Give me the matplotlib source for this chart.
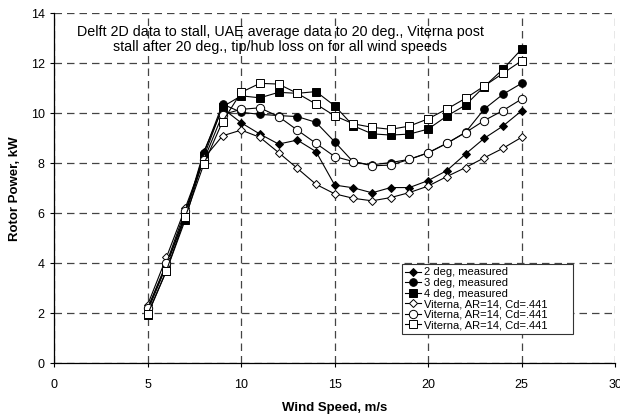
import matplotlib
matplotlib.use('Agg')
import matplotlib.pyplot as plt

plt.rcParams['font.family'] = ['Liberation Sans', 'DejaVu Sans']

# Wind speeds, m/s
wind = [5, 6, 7, 8, 9, 10, 11, 12, 13, 14, 15, 16, 17, 18, 19, 20, 21, 22, 23, 24, 25]

# Measured rotor power, kW
meas2 = [2.2, 3.95, 5.95, 8.47, 10.2, 9.62, 9.17, 8.77, 8.93, 8.47, 7.13, 7.02, 6.82,
         7.03, 7.03, 7.31, 7.71, 8.37, 9.0, 9.49, 10.1]
meas3 = [2.1, 3.9, 5.9, 8.4, 10.37, 10.04, 9.96, 9.91, 9.87, 9.64, 8.86, 8.05, 7.94,
         8.03, 8.16, 8.42, 8.8, 9.24, 10.17, 10.76, 11.2]
meas4 = [1.95, 3.7, 5.73, 8.27, 10.26, 10.7, 10.62, 10.84, 10.8, 10.87, 10.3, 9.5, 9.18,
         9.13, 9.17, 9.37, 9.89, 10.33, 11.07, 11.76, 12.57]

# Viterna predictions, AR=14, Cd=.441
vit2 = [2.35, 4.24, 6.2, 8.2, 9.1, 9.33, 9.04, 8.43, 7.8, 7.16, 6.78, 6.6, 6.5,
        6.63, 6.83, 7.09, 7.47, 7.83, 8.22, 8.6, 9.04]
vit3 = [2.2, 4.0, 6.1, 8.13, 9.95, 10.16, 10.22, 9.87, 9.33, 8.8, 8.27, 8.07, 7.9,
        7.93, 8.16, 8.42, 8.8, 9.23, 9.71, 10.11, 10.57]
vit4 = [1.97, 3.71, 5.84, 7.97, 9.67, 10.84, 11.2, 11.17, 10.8, 10.37, 9.9, 9.58, 9.44,
        9.36, 9.49, 9.78, 10.17, 10.6, 11.09, 11.6, 12.1]

labels = ['2 deg, measured', '3 deg, measured', '4 deg, measured',
          'Viterna, AR=14, Cd=.441', 'Viterna, AR=14, Cd=.441', 'Viterna, AR=14, Cd=.441']

fig = plt.figure(figsize=(6.2, 4.17), dpi=100)
ax = fig.add_axes([0.0876, 0.1288, 0.9044, 0.8392])

series = [(meas2, 'D', 'black', 4), (meas3, 'o', 'black', 5.5), (meas4, 's', 'black', 5.5),
          (vit2, 'D', 'white', 4), (vit3, 'o', 'white', 6), (vit4, 's', 'white', 6)]
for (vals, mk, fc, ms), lab in zip(series, labels):
    ax.plot(wind, vals, color='black', lw=0.8, marker=mk, markersize=ms,
            markerfacecolor=fc, markeredgecolor='black', markeredgewidth=0.7, label=lab)

ax.set_xlim(0, 30)
ax.set_ylim(0, 14)
ax.set_xticks(range(0, 31, 5))
ax.set_yticks(range(0, 15, 2))
ax.grid(True, linestyle=(0, (6, 4)), color='#444444', lw=0.9)
ax.set_axisbelow(True)
for s in ['top', 'right']:
    ax.spines[s].set_visible(False)
ax.spines['left'].set_linewidth(0.9)
ax.spines['bottom'].set_linewidth(0.9)
ax.tick_params(labelsize=9, length=3, width=0.8)
ax.tick_params(axis='x', pad=8)
ax.tick_params(axis='y', pad=4)

ax.set_xlabel('Wind Speed, m/s', fontsize=9.5, fontweight='bold', labelpad=8)
ax.set_ylabel('Rotor Power, kW', fontsize=9.5, fontweight='bold', labelpad=7)

ax.text(0.403, 0.925, 'Delft 2D data to stall, UAE average data to 20 deg., Viterna post\n'
        'stall after 20 deg., tip/hub loss on for all wind speeds',
        transform=ax.transAxes, ha='center', va='center', fontsize=10.3, linespacing=1.1)

leg = ax.legend(loc='lower left', bbox_to_anchor=(0.62, 0.085, 0.305, 0.22), mode='expand',
                fontsize=8, handlelength=1.4, handletextpad=0.3, labelspacing=0.05,
                borderpad=0.3, frameon=True, fancybox=False, framealpha=1,
                borderaxespad=0)
leg.get_frame().set_edgecolor('#333333')
leg.get_frame().set_linewidth(0.8)

fig.savefig('out.png', dpi=100)
